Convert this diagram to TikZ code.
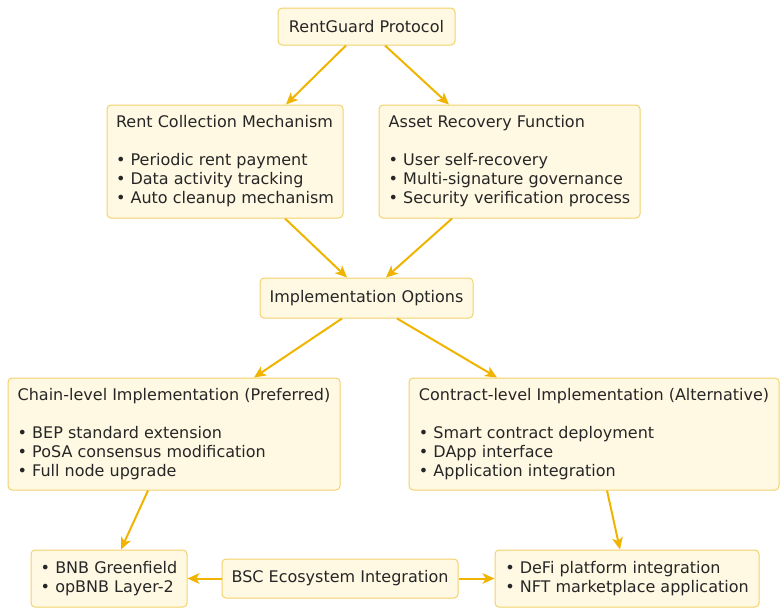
\documentclass[tikz,border=0pt]{standalone}
\usepackage{fontspec}
\setmainfont{DejaVu Sans}
\usepackage{xcolor}
\usetikzlibrary{arrows.meta}

\definecolor{boxfill}{HTML}{FFF9E3}
\definecolor{boxline}{HTML}{F2D26A}
\definecolor{flow}{HTML}{F0B400}

\begin{document}
\begin{tikzpicture}[
		x=0.75pt, y=-0.75pt,
		every node/.style={
			draw=boxline,
			fill=boxfill,
			line width=0.75pt,
			rounded corners=3pt,
			font=\fontsize{12}{14.25}\selectfont,
			text=black!85,
			align=left
		},
		->/.style={-{Stealth[inset=2.5pt,length=9pt,width=8pt]}},
		every path/.style={draw=flow, line width=1.5pt}
		]
		
		\useasboundingbox[draw=none] (0,0) rectangle (784,612);
		
		\node (proto) at (366.5,26.5) [minimum width=132.75pt, minimum height=27.75pt] {RentGuard Protocol};
		\node (rent) at (225,161.5) [minimum width=177pt, minimum height=84.75pt] {Rent Collection Mechanism\\[14.25pt]
			• Periodic rent payment\\ • Data activity tracking\\ • Auto cleanup mechanism};
		\node (recover) at (509.5,161.5) [minimum width=195.75pt, minimum height=84.75pt] {Asset Recovery Function\\[14.25pt]
			• User self-recovery\\ • Multi-signature governance\\ • Security verification process};
		\node (impl) at (366.5,298) [minimum width=159.75pt, minimum height=30pt] {Implementation Options};
		\node (chain) at (174,434) [minimum width=249pt, minimum height=84pt] {Chain-level Implementation (Preferred)\\[14.25pt]
			• BEP standard extension\\ • PoSA consensus modification\\ • Full node upgrade};
		\node (contract) at (594,434) [minimum width=277.5pt, minimum height=84pt] {Contract-level Implementation (Alternative)\\[14.25pt]
			• Smart contract deployment\\ • DApp interface\\ • Application integration};
		\node (bnb) at (109,578.5) [minimum width=117pt, minimum height=42.75pt] {• BNB Greenfield\\ • opBNB Layer-2};
		\node (bsc) at (340,578.5) [minimum width=177pt, minimum height=29.25pt] {BSC Ecosystem Integration};
		\node (defi) at (627,578.5) [minimum width=198pt, minimum height=42.75pt] {• DeFi platform integration\\ • NFT marketplace application};
		
		\draw[->] ([xshift=-15.4pt]proto.south)--([xshift=45.75pt]rent.north);
		\draw[->] ([xshift=13.9pt]proto.south)--([xshift=-45.4pt]recover.north);
		
		\draw[->] ([xshift=45pt]rent.south)--([xshift=-14.6pt]impl.north);
		\draw[->] ([xshift=-43.1pt]recover.south)--([xshift=14.6pt]impl.north);
		
		\draw[->] ([xshift=-18.4pt]impl.south)--([xshift=60pt]chain.north);
		\draw[->] ([xshift=22.9pt]impl.south)--([xshift=-72.75pt]contract.north);
		
		\draw[->] ([xshift=-19.5pt]chain.south)--([xshift=9pt]bnb.north);
		\draw[->] ([xshift=9.75pt]contract.south)--([xshift=-5.25pt]defi.north);
		
		\draw[->] (bsc.west)--(bnb.east);
		\draw[->] (bsc.east)--(defi.west);
		
	\end{tikzpicture}
\end{document}
